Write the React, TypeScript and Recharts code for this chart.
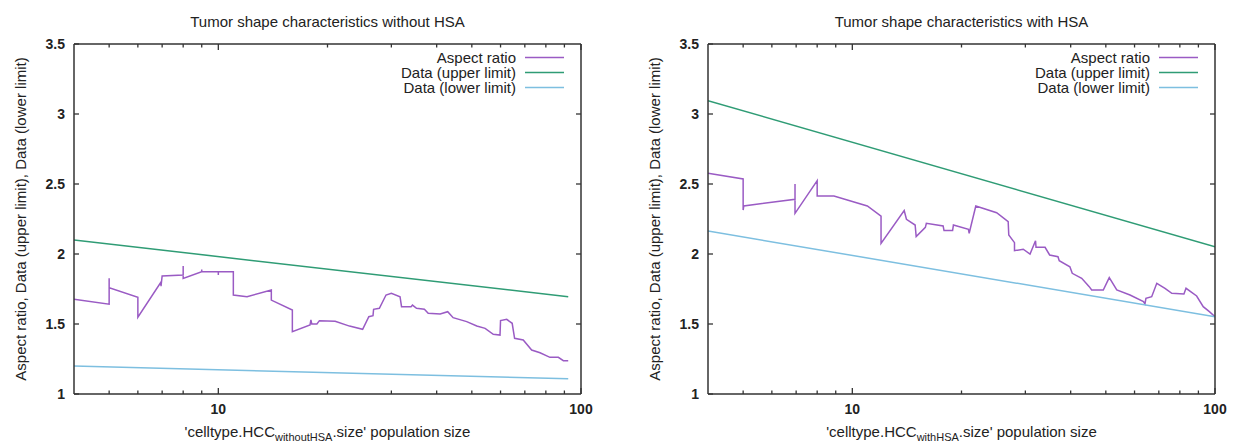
import React from "react";
import { Legend, Line, LineChart, XAxis, YAxis } from "recharts";

// left panel: population size / aspect ratio readings
const withoutSize = [
  4, 5, 5, 5, 6, 6, 6.95, 6.95, 7, 8, 8, 8, 9, 9, 9, 10, 10, 10, 11, 11, 12, 14, 14, 16, 16,
  17.9, 18, 18.1, 18.7, 19, 21, 23, 25, 26, 26.7, 26.8, 27.8, 29, 30, 31.7, 32, 34, 34.3, 35.2,
  37, 37.9, 40.9, 42.9, 44.4, 48.4, 51.6, 54.4, 57.3, 59.8, 60, 62.4, 64.6, 65.6, 69.3, 73.1,
  77.1, 82.1, 86.6, 89.4, 92.2,
];
const withoutAspect = [
  1.676, 1.641, 1.826, 1.76, 1.69, 1.548, 1.8, 1.77, 1.843, 1.85, 1.914, 1.826, 1.874, 1.89,
  1.874, 1.874, 1.85, 1.874, 1.874, 1.707, 1.695, 1.743, 1.671, 1.6, 1.445, 1.493, 1.53, 1.5,
  1.5, 1.524, 1.52, 1.485, 1.462, 1.552, 1.56, 1.605, 1.612, 1.707, 1.719, 1.695, 1.624, 1.624,
  1.635, 1.612, 1.605, 1.576, 1.571, 1.588, 1.545, 1.517, 1.486, 1.469, 1.426, 1.421, 1.524,
  1.533, 1.505, 1.398, 1.386, 1.314, 1.295, 1.262, 1.262, 1.238, 1.238,
];
const withoutLimitSize = [4, 92.2];
const withoutUpper = [2.1, 1.695];
const withoutLower = [1.2, 1.109];

// right panel
const withSize = [
  4, 5, 5, 5.02, 6.95, 6.95, 6.95, 8, 8, 8.9, 11, 12, 12, 13.9, 14.1, 14.9, 15, 15.9, 16, 17.8,
  17.9, 18.9, 19, 20.9, 21, 21.9, 25, 26.9, 27, 28, 28, 29.6, 30.9, 32, 32.1, 34, 35, 36.9, 37.2,
  39.8, 40.4, 42.9, 45, 45.7, 49.2, 51.1, 53.6, 58.3, 63.5, 64.1, 64.5, 66.9, 69.1, 72.8, 76,
  82.1, 83.2, 89, 92.8, 96.5, 100,
];
const withAspect = [
  2.576, 2.536, 2.314, 2.343, 2.391, 2.5, 2.29, 2.524, 2.414, 2.414, 2.343, 2.271, 2.076, 2.31,
  2.248, 2.207, 2.124, 2.19, 2.219, 2.2, 2.167, 2.167, 2.207, 2.176, 2.148, 2.343, 2.295, 2.231,
  2.136, 2.081, 2.024, 2.034, 2.0, 2.095, 2.048, 2.048, 1.993, 1.981, 1.952, 1.909, 1.862, 1.826,
  1.767, 1.743, 1.743, 1.831, 1.743, 1.707, 1.66, 1.643, 1.683, 1.695, 1.791, 1.755, 1.719, 1.714,
  1.755, 1.7, 1.624, 1.588, 1.552,
];
const withLimitSize = [4, 100];
const withUpper = [3.095, 2.052];
const withLower = [2.164, 1.552];

const xTicks = [5, 6, 7, 8, 9, 10, 20, 30, 40, 50, 60, 70, 80, 90, 100];
const xLabelled = [10, 100];
const yTicks = [1, 1.5, 2, 2.5, 3, 3.5];
const seriesNames = ["Aspect ratio", "Data (upper limit)", "Data (lower limit)"];
const seriesColors = ["#9a5bc4", "#2f9c75", "#7dbfe0"];

const FONT = "'Liberation Sans', Arial, Helvetica, sans-serif";
const AXIS = "#333";
const TEXT = "#222";
const axisLine = { stroke: AXIS, strokeWidth: 1.5 };

// gnuplot style: ticks point into the plot, labels only on the left/bottom
function BottomTick({ x, y, payload }: any) {
  const major = xLabelled.includes(payload.value);
  return (
    <g>
      <line x1={x} y1={y} x2={x} y2={y - (major ? 6 : 3.5)} stroke={AXIS} strokeWidth={1.3} />
      {major && (
        <text x={x} y={y + 20} textAnchor="middle" fontFamily={FONT} fontSize={14} fontWeight={600} fill={TEXT}>
          {payload.value}
        </text>
      )}
    </g>
  );
}

function TopTick({ x, y, payload }: any) {
  const major = xLabelled.includes(payload.value);
  return <line x1={x} y1={y} x2={x} y2={y + (major ? 6 : 3.5)} stroke={AXIS} strokeWidth={1.3} />;
}

function LeftTick({ x, y, payload }: any) {
  return (
    <g>
      <line x1={x} y1={y} x2={x + 5} y2={y} stroke={AXIS} strokeWidth={1.3} />
      <text x={x - 9} y={y + 5} textAnchor="end" fontFamily={FONT} fontSize={14} fontWeight={600} fill={TEXT}>
        {payload.value}
      </text>
    </g>
  );
}

function RightTick({ x, y }: any) {
  return <line x1={x} y1={y} x2={x - 5} y2={y} stroke={AXIS} strokeWidth={1.3} />;
}

function GnuLegend() {
  return (
    <div style={{ fontFamily: FONT, fontSize: 15, color: TEXT }}>
      {seriesNames.map((n, i) => (
        <div key={n} style={{ display: "flex", justifyContent: "flex-end", alignItems: "center", height: 15 }}>
          <span style={{ lineHeight: "15px", whiteSpace: "nowrap" }}>{n}</span>
          <svg width={39} height={15} style={{ marginLeft: 9, display: "block" }}>
            <line x1={0} x2={39} y1={7.5} y2={7.5} stroke={seriesColors[i]} strokeWidth={1.5} />
          </svg>
        </div>
      ))}
    </div>
  );
}

type PanelProps = {
  title: string;
  sub: string;
  size: number[];
  aspect: number[];
  limitSize: number[];
  upper: number[];
  lower: number[];
  yWidth: number;
  right: number;
};

function Panel({ title, sub, size, aspect, limitSize, upper, lower, yWidth, right }: PanelProps) {
  const W = 618;
  const aspectData = size.map((x, i) => ({ x, y: aspect[i] }));
  const upperData = limitSize.map((x, i) => ({ x, y: upper[i] }));
  const lowerData = limitSize.map((x, i) => ({ x, y: lower[i] }));
  const series = [aspectData, upperData, lowerData];
  const plotRight = W - right;

  const xLabel = (p: any) => {
    const vb = p.viewBox;
    return (
      <text x={vb.x + vb.width / 2} y={vb.y + 43} textAnchor="middle" fontFamily={FONT} fontSize={15} fill={TEXT}>
        <tspan>'celltype.HCC</tspan>
        <tspan fontSize={11} dy={4}>{sub}</tspan>
        <tspan dy={-4}>.size' population size</tspan>
      </text>
    );
  };
  const yLabel = (p: any) => {
    const vb = p.viewBox;
    const cx = vb.x + vb.width - 54;
    const cy = vb.y + vb.height / 2;
    return (
      <text
        x={cx}
        y={cy}
        transform={`rotate(-90 ${cx} ${cy})`}
        textAnchor="middle"
        dominantBaseline="central"
        fontFamily={FONT}
        fontSize={15}
        fill={TEXT}
      >
        Aspect ratio, Data (upper limit), Data (lower limit)
      </text>
    );
  };

  return (
    <div style={{ position: "relative", width: W, height: 443 }}>
      <div
        style={{
          position: "absolute",
          left: yWidth,
          top: 13,
          width: plotRight - yWidth,
          textAlign: "center",
          fontFamily: FONT,
          fontSize: 15,
          lineHeight: "17px",
          color: TEXT,
          whiteSpace: "nowrap",
        }}
      >
        {title}
      </div>
      <LineChart width={W} height={443} margin={{ top: 43, right: right - 1, bottom: 0, left: 0 }}>
        <XAxis
          dataKey="x"
          type="number"
          scale="log"
          domain={[4, 100]}
          allowDataOverflow
          ticks={xTicks}
          interval={0}
          tickSize={0}
          tickMargin={0}
          tick={<BottomTick />}
          height={49}
          axisLine={axisLine}
          label={xLabel}
        />
        <XAxis
          xAxisId="top"
          orientation="top"
          dataKey="x"
          type="number"
          scale="log"
          domain={[4, 100]}
          allowDataOverflow
          ticks={xTicks}
          interval={0}
          tickSize={0}
          tickMargin={0}
          tick={<TopTick />}
          height={1}
          axisLine={axisLine}
        />
        <YAxis
          type="number"
          domain={[1, 3.5]}
          allowDataOverflow
          ticks={yTicks}
          interval={0}
          tickSize={0}
          tickMargin={0}
          tick={<LeftTick />}
          width={yWidth}
          axisLine={axisLine}
          label={yLabel}
        />
        <YAxis
          yAxisId="right"
          orientation="right"
          type="number"
          domain={[1, 3.5]}
          allowDataOverflow
          ticks={yTicks.slice(1, -1)}
          interval={0}
          tickSize={0}
          tickMargin={0}
          tick={<RightTick />}
          width={1}
          axisLine={axisLine}
        />
        <Legend
          content={<GnuLegend />}
          layout="vertical"
          align="center"
          verticalAlign="middle"
          wrapperStyle={{ position: "absolute", top: 50, left: plotRight - 17 - 230, width: 230, height: 45, margin: 0 }}
        />
        {series.map((d, i) => (
          <Line
            key={seriesNames[i]}
            data={d}
            dataKey="y"
            name={seriesNames[i]}
            type="linear"
            stroke={seriesColors[i]}
            strokeWidth={1.5}
            dot={false}
            activeDot={false}
            isAnimationActive={false}
          />
        ))}
      </LineChart>
    </div>
  );
}

export default function App() {
  return (
    <div style={{ position: "absolute", left: 0, top: 0, width: 1236, height: 443, background: "#fff", display: "flex" }}>
      <Panel
        title="Tumor shape characteristics without HSA"
        sub="withoutHSA"
        size={withoutSize}
        aspect={withoutAspect}
        limitSize={withoutLimitSize}
        upper={withoutUpper}
        lower={withoutLower}
        yWidth={74}
        right={37}
      />
      <Panel
        title="Tumor shape characteristics with HSA"
        sub="withHSA"
        size={withSize}
        aspect={withAspect}
        limitSize={withLimitSize}
        upper={withUpper}
        lower={withLower}
        yWidth={90}
        right={21}
      />
    </div>
  );
}
